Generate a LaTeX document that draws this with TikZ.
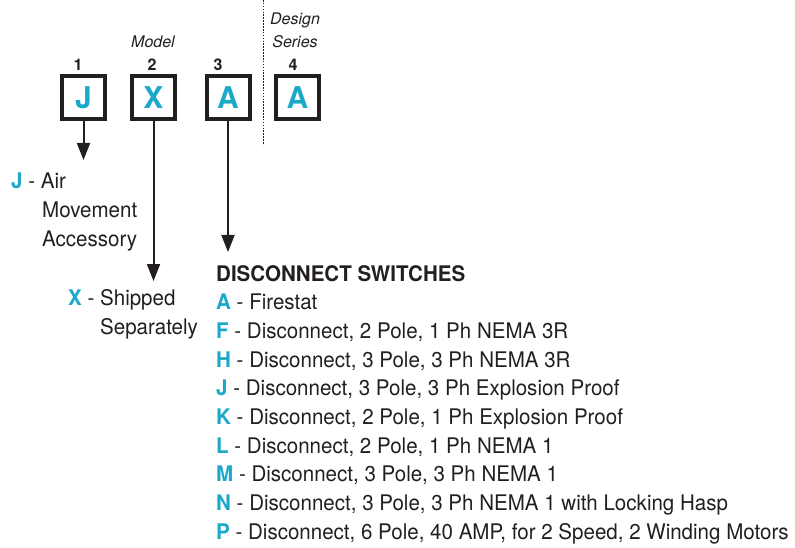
\documentclass[tikz,border=0pt]{standalone}
\usepackage{fontspec}
\setmainfont{TeX Gyre Heros}
\newfontfamily\bodyfont{TeX Gyre Heros}[FakeStretch=0.955]
\usetikzlibrary{arrows.meta}
\definecolor{keycyan}{HTML}{1BA8C9}
\definecolor{ink}{HTML}{231F20}
\newcommand\txtsz{\bodyfont\fontsize{21.5}{25}\selectfont}
\newcommand\kc[1]{{\bfseries\color{keycyan}#1}}
\tikzset{
  lbl/.style={anchor=base west, inner sep=0pt, font=\txtsz, text=ink},
  numlbl/.style={anchor=base, inner sep=0pt, font=\fontsize{16}{18}\selectfont\bfseries, text=ink},
  itlbl/.style={anchor=base, inner sep=0pt, font=\fontsize{16}{18}\selectfont\itshape, text=ink},
  codebox/.style={draw=ink, line width=4pt, minimum size=43pt, inner sep=0pt,
    font=\fontsize{30}{30}\selectfont\bfseries, text=keycyan},
  arr/.style={-{Triangle[length=17pt,width=13pt]}, line width=2pt, draw=ink},
  sep/.style={draw=ink, line width=1pt, dash pattern=on 1.6pt off 1.3pt},
}
\begin{document}
\begin{tikzpicture}[x=1pt,y=-1pt]
\useasboundingbox (0,0) rectangle (795,548);
% code boxes
\node[codebox] (bJ) at (83.5,98) {J};
\node[codebox] (bX) at (153.5,98) {X};
\node[codebox] (bA) at (228,98) {A};
\node[codebox] (bD) at (297.5,98) {A};
% position numbers
\node[numlbl] (n1) at (78,70.5) {1};
\node[numlbl] (n2) at (152,70.5) {2};
\node[numlbl] (n3) at (218,70.5) {3};
\node[numlbl] (n4) at (293,70.5) {4};
% headings
\node[itlbl] (model) at (153,47.5) {Model};
\node[itlbl] (design) at (295,24.5) {Design};
\node[itlbl] (series) at (295,47.5) {Series};
% separator
\coordinate (s1) at (263,0);
\coordinate (s2) at (263,145);
\draw[sep] (s1) -- (s2);
% arrows
\coordinate (tJ) at (83.5,160);
\coordinate (tX) at (153.5,281);
\coordinate (tA) at (228,252);
\draw[arr] (bJ.south) -- (tJ);
\draw[arr] (bX.south) -- (tX);
\draw[arr] (bA.south) -- (tA);
% left texts
\node[lbl] (jair) at (11,189) {\kc{J} - Air};
\node[lbl] (jmov) at (42,217.7) {Movement};
\node[lbl] (jacc) at (42,246.3) {Accessory};
\node[lbl] (xship) at (68,305.7) {\kc{X} - Shipped};
\node[lbl] (xsep) at (100,334.3) {Separately};
% list
\node[lbl, font=\txtsz\bfseries] (head) at (216,281) {DISCONNECT SWITCHES};
\node[lbl] (lA) at (216,309.7) {\kc{A} - Firestat};
\node[lbl] (lF) at (216,338.3) {\kc{F} - Disconnect, 2 Pole, 1 Ph NEMA 3R};
\node[lbl] (lH) at (216,367) {\kc{H} - Disconnect, 3 Pole, 3 Ph NEMA 3R};
\node[lbl] (lJ) at (216,395.7) {\kc{J} - Disconnect, 3 Pole, 3 Ph Explosion Proof};
\node[lbl] (lK) at (216,424.3) {\kc{K} - Disconnect, 2 Pole, 1 Ph Explosion Proof};
\node[lbl] (lL) at (216,453) {\kc{L} - Disconnect, 2 Pole, 1 Ph NEMA 1};
\node[lbl] (lM) at (216,481.7) {\kc{M} - Disconnect, 3 Pole, 3 Ph NEMA 1};
\node[lbl] (lN) at (216,510.3) {\kc{N} - Disconnect, 3 Pole, 3 Ph NEMA 1 with Locking Hasp};
\node[lbl] (lP) at (216,539) {\kc{P} - Disconnect, 6 Pole, 40 AMP, for 2 Speed, 2 Winding Motors};
\end{tikzpicture}
\end{document}
